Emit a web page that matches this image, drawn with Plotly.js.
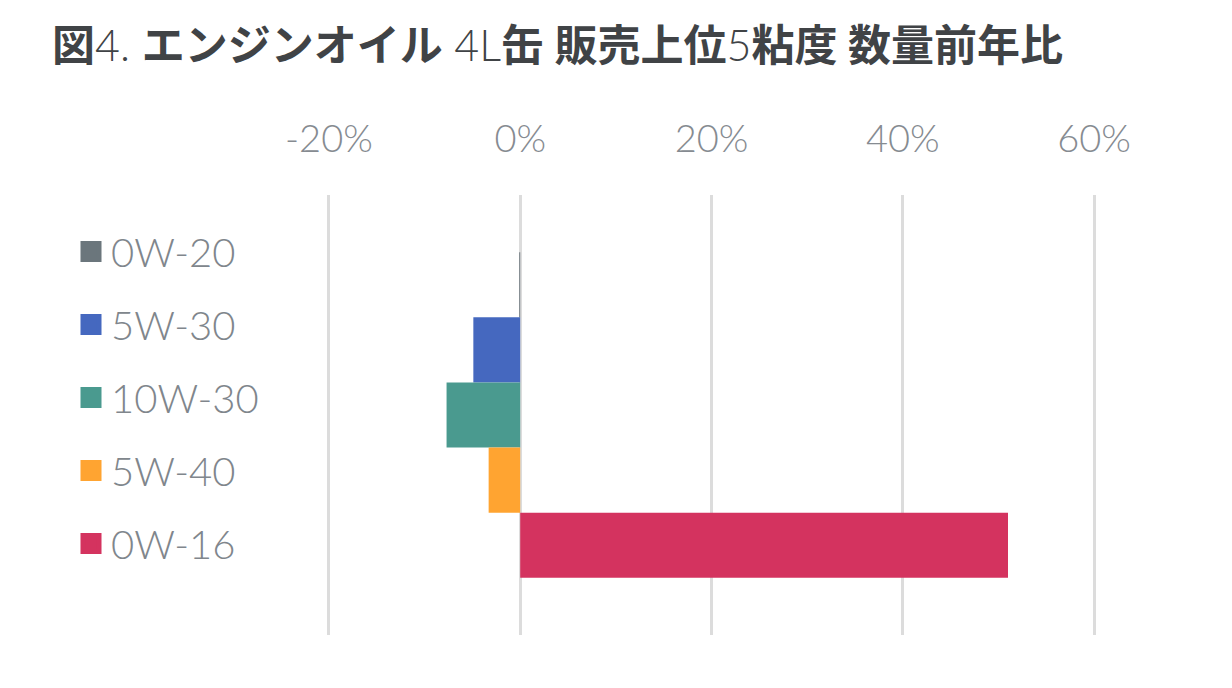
<!DOCTYPE html>
<html>
<head>
<meta charset="utf-8">
<script src="https://cdn.plot.ly/plotly-3.0.1.min.js"></script>
<style>
  html, body { margin: 0; padding: 0; background: #ffffff; }
  #chart { width: 1232px; height: 688px; }
</style>
</head>
<body>
<div id="chart"></div>
<script>
//Viscosity grades, top to bottom as in the legend
var grades = ["0W-20", "5W-30", "10W-30", "5W-40", "0W-16"];
//Year-on-year change in units sold (fraction)
var yoyChange = [-0.001, -0.049, -0.077, -0.033, 0.510];
var gradeColors = ["#6b767c", "#4568bf", "#4a9a8f", "#ffa431", "#d4335f"];
//Axis ticks
var tickVals = [-0.2, 0, 0.2, 0.4, 0.6];
var tickText = ["-20%", "0%", "20%", "40%", "60%"];

var data = [];
//One bar trace per grade, all in the same (single) category
for (var i = 0; i < grades.length; i++) {
    data.push({
        type: 'bar', orientation: 'h',
        x: [yoyChange[i]], y: ['all'],
        name: grades[i], showlegend: false,
        marker: {color: gradeColors[i]},
        hoverinfo: 'x+name'
    });
}
//Legend-only traces so the swatches are bigger than the bar default
for (var i = 0; i < grades.length; i++) {
    data.push({
        type: 'scatter', mode: 'markers',
        x: [null], y: [null],
        name: grades[i], legendgroup: grades[i],
        marker: {color: gradeColors[i], symbol: 'square', size: 16,
                 line: {color: gradeColors[i], width: 5}}
    });
}

var layout = {
    width: 1232, height: 688,
    margin: {l: 327, r: 136, t: 195, b: 53},
    paper_bgcolor: '#ffffff', plot_bgcolor: '#ffffff',
    font: {family: 'Lato, "Noto Sans CJK JP", sans-serif', color: '#80868c'},
    title: {
        text: '<b>図</b>4. <b>エンジンオイル</b> 4L<b>缶 販売上位</b>5<b>粘度 数量前年比</b>',
        font: {family: 'Lato, "Noto Sans CJK JP", sans-serif', size: 43, color: '#404346', weight: 300},
        xref: 'container', x: 52 / 1232, xanchor: 'left',
        yref: 'container', y: 1 - 46 / 688, yanchor: 'middle'
    },
    barmode: 'group', bargap: 0.26, bargroupgap: 0,
    xaxis: {
        side: 'top', range: [-0.202, 0.602],  //a hair wider so the edge gridlines are drawn
        tickvals: tickVals, ticktext: tickText,
        tickfont: {size: 38, color: '#868b91', weight: 300},
        ticks: '', ticklabelstandoff: 34,
        showgrid: true, gridcolor: '#dcdcdc', gridwidth: 3,
        zeroline: false, showline: false, fixedrange: true
    },
    yaxis: {
        type: 'category', autorange: 'reversed',
        showticklabels: false, showgrid: false, zeroline: false, showline: false,
        fixedrange: true
    },
    showlegend: true,
    legend: {
        xref: 'container', yref: 'container',
        x: 71 / 1232, xanchor: 'left',
        y: 1 - 219 / 688, yanchor: 'top',
        maxheight: 460,
        font: {size: 40, color: '#80868c', weight: 300},
        tracegroupgap: 18, bgcolor: 'rgba(0,0,0,0)'
    }
};

Plotly.newPlot('chart', data, layout, {displayModeBar: false, staticPlot: true});
</script>
</body>
</html>
